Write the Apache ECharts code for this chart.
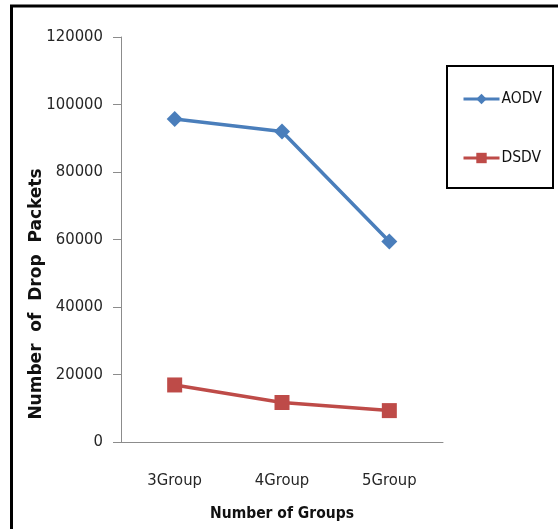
<!DOCTYPE html>
<html>
<head>
<meta charset="utf-8">
<script src="https://cdn.jsdelivr.net/npm/echarts@6/dist/echarts.min.js"></script>
<style>
html,body{margin:0;padding:0;background:#fff;}
#chart{width:558px;height:529px;}
</style>
</head>
<body>
<div id="chart"></div>
<script>
var categories = ['3Group', '4Group', '5Group'];
var aodvValues = [95700, 92000, 59400];
var dsdvValues = [16900, 11700, 9300];
var yTicks = { min: 0, max: 120000, interval: 20000 };

var labelFont = "'DejaVu Sans Condensed', 'Liberation Sans Narrow', sans-serif";

var chart = echarts.init(document.getElementById('chart'), null, { renderer: 'canvas' });
chart.setOption({
  backgroundColor: '#ffffff',
  animation: false,
  grid: { left: 121, right: 115, top: 37, bottom: 87, containLabel: false },
  xAxis: {
    type: 'category',
    data: categories,
    boundaryGap: true,
    axisLine: { lineStyle: { color: '#8c8c8c', width: 1 } },
    axisTick: { show: false },
    axisLabel: { color: '#262626', fontSize: 16.5, fontFamily: labelFont, margin: 30 },
    name: 'Number of Groups',
    nameLocation: 'middle',
    nameGap: 64,
    nameTextStyle: { color: '#111', fontSize: 15.5, fontWeight: 'bold', fontFamily: labelFont }
  },
  yAxis: {
    type: 'value',
    min: yTicks.min,
    max: yTicks.max,
    interval: yTicks.interval,
    axisLine: { show: true, lineStyle: { color: '#8c8c8c', width: 1 } },
    axisTick: { show: true, length: 8, lineStyle: { color: '#8c8c8c' } },
    splitLine: { show: false },
    axisLabel: { color: '#262626', fontSize: 16.5, fontFamily: labelFont, margin: 18,
      formatter: function (v) { return String(v); } }
  },
  legend: {
    orient: 'vertical',
    left: 462,
    top: 91,
    padding: 0,
    itemWidth: 36,
    itemHeight: 13,
    itemGap: 43,
    lineStyle: { width: 3 },
    textStyle: { color: '#111', fontSize: 15.5, fontFamily: labelFont, padding: [0, 0, 0, -3] },
    data: ['AODV', 'DSDV']
  },
  graphic: [
    { type: 'rect', shape: { x: 11.5, y: 6, width: 620, height: 620 }, style: { fill: 'none', stroke: '#000', lineWidth: 3 }, silent: true },
    { type: 'rect', shape: { x: 447, y: 66, width: 106, height: 122 }, style: { fill: 'none', stroke: '#000', lineWidth: 2 }, silent: true },
    { type: 'text', x: 37, y: 294, rotation: Math.PI / 2,
      style: { text: 'Number  of  Drop  Packets', fill: '#111', font: "bold 17px 'DejaVu Sans', sans-serif", align: 'center', verticalAlign: 'middle' } }
  ],
  series: [
    {
      name: 'AODV', type: 'line', data: aodvValues,
      symbol: 'diamond', symbolSize: 16,
      lineStyle: { color: '#4a7ebb', width: 3.5 },
      itemStyle: { color: '#4a7ebb' }
    },
    {
      name: 'DSDV', type: 'line', data: dsdvValues,
      symbol: 'rect', symbolSize: 15,
      lineStyle: { color: '#be4b48', width: 3.5 },
      itemStyle: { color: '#be4b48' }
    }
  ]
});
</script>
</body>
</html>
